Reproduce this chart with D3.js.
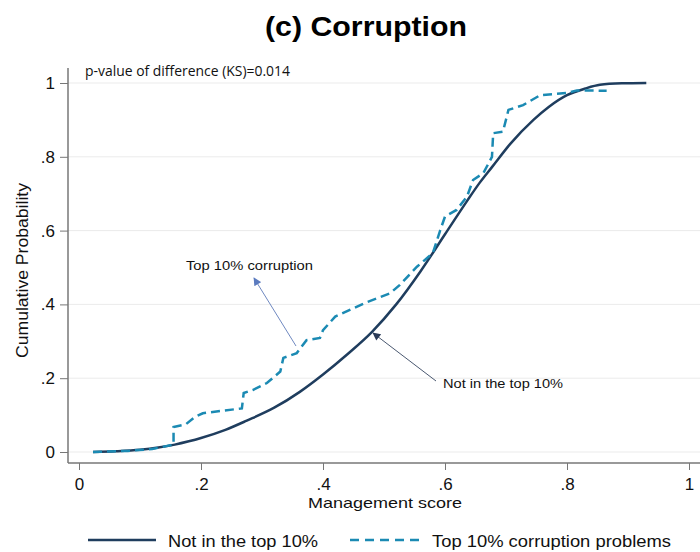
<!DOCTYPE html>
<html>
<head>
<meta charset="utf-8">
<script src="https://cdn.jsdelivr.net/npm/d3@7"></script>
<style>
  body { margin: 0; background: #fff; }
  svg { display: block; font-family: 'Liberation Sans', Arial, sans-serif; }
</style>
</head>
<body>
<svg id="chart" width="700" height="552"></svg>
<script>
// management score (x) vs cumulative probability (y)
const notTopX = [0.023, 0.06, 0.1, 0.13, 0.157, 0.18, 0.2, 0.24, 0.275, 0.32, 0.362, 0.4, 0.44, 0.48, 0.52, 0.56, 0.6, 0.636, 0.657, 0.677, 0.707, 0.745, 0.77, 0.8, 0.83, 0.854, 0.89, 0.93]
const notTopY = [0, 0.002, 0.006, 0.012, 0.02, 0.029, 0.038, 0.06, 0.085, 0.12, 0.163, 0.21, 0.265, 0.325, 0.4, 0.49, 0.59, 0.68, 0.73, 0.772, 0.835, 0.9, 0.935, 0.967, 0.985, 0.995, 0.999, 1]

const topX = [0.023, 0.08, 0.12, 0.155, 0.155, 0.175, 0.19, 0.203, 0.235, 0.267, 0.27, 0.285, 0.308, 0.33, 0.335, 0.357, 0.373, 0.395, 0.4, 0.42, 0.444, 0.47, 0.51, 0.526, 0.554, 0.58, 0.592, 0.6, 0.619, 0.636, 0.646, 0.663, 0.677, 0.679, 0.695, 0.704, 0.728, 0.756, 0.8, 0.816, 0.865]
const topY = [0, 0.003, 0.008, 0.02, 0.068, 0.075, 0.095, 0.105, 0.112, 0.118, 0.16, 0.168, 0.187, 0.218, 0.255, 0.268, 0.303, 0.309, 0.33, 0.367, 0.385, 0.405, 0.43, 0.453, 0.502, 0.539, 0.6, 0.638, 0.656, 0.692, 0.737, 0.756, 0.8, 0.864, 0.868, 0.927, 0.94, 0.967, 0.973, 0.98, 0.979]

const xTicks = [0, 0.2, 0.4, 0.6, 0.8, 1]
const xTickLabels = ['0', '.2', '.4', '.6', '.8', '1']
const yTicks = [0, 0.2, 0.4, 0.6, 0.8, 1]
const yTickLabels = ['0', '.2', '.4', '.6', '.8', '1']

const navy = '#1f3d5e'
const teal = '#1b8ab3'

const svg = d3.select('#chart')

const x = d3.scaleLinear().domain([0, 1]).range([79, 689])
const y = d3.scaleLinear().domain([0, 1]).range([452, 83])

// gridlines
svg.append('g')
  .selectAll('line')
  .data(yTicks)
  .join('line')
  .attr('x1', 68)
  .attr('x2', 700)
  .attr('y1', (d) => y(d))
  .attr('y2', (d) => y(d))
  .attr('stroke', '#ebebeb')
  .attr('stroke-width', 1)

// axes
const xAxis = d3.axisBottom(x)
  .tickValues(xTicks)
  .tickFormat((d, i) => xTickLabels[i])
  .tickSize(7)
  .tickPadding(8)

const yAxis = d3.axisLeft(y)
  .tickValues(yTicks)
  .tickFormat((d, i) => yTickLabels[i])
  .tickSize(8)
  .tickPadding(5)

const gX = svg.append('g')
  .attr('transform', 'translate(0,463)')
  .call(xAxis)
gX.select('.domain').remove()
gX.append('line').attr('x1', 68).attr('x2', 700).attr('stroke', '#777').attr('stroke-width', 1.5)

const gY = svg.append('g')
  .attr('transform', 'translate(68,0)')
  .call(yAxis)
gY.select('.domain').remove()
gY.append('line').attr('y1', 68).attr('y2', 463).attr('stroke', '#777').attr('stroke-width', 1.5)

svg.selectAll('.tick line').attr('stroke', '#777')
svg.selectAll('.tick text')
  .attr('fill', '#111')
  .style('font-size', '17px')
  .style('font-family', "'Liberation Sans', Arial, sans-serif")

// curves
const smooth = d3.line()
  .x((d) => x(d[0]))
  .y((d) => y(d[1]))
  .curve(d3.curveMonotoneX)

const line = d3.line()
  .x((d) => x(d[0]))
  .y((d) => y(d[1]))

svg.append('path')
  .datum(notTopX.map((v, i) => [v, notTopY[i]]))
  .attr('d', smooth)
  .attr('fill', 'none')
  .attr('stroke', navy)
  .attr('stroke-width', 2.5)

svg.append('path')
  .datum(topX.map((v, i) => [v, topY[i]]))
  .attr('d', line)
  .attr('fill', 'none')
  .attr('stroke', teal)
  .attr('stroke-width', 2.5)
  .attr('stroke-dasharray', '9,5')

// arrows
const defs = svg.append('defs')
function marker (id, color) {
  defs.append('marker')
    .attr('id', id)
    .attr('viewBox', '0 0 10 10')
    .attr('refX', 9)
    .attr('refY', 5)
    .attr('markerWidth', 9)
    .attr('markerHeight', 8)
    .attr('markerUnits', 'userSpaceOnUse')
    .attr('orient', 'auto')
    .append('path')
    .attr('d', 'M0,0L10,5L0,10z')
    .attr('fill', color)
}
marker('arrTop', '#5b7bbf')
marker('arrNot', '#2a3b58')

svg.append('line')
  .attr('x1', 296).attr('y1', 346)
  .attr('x2', 254).attr('y2', 278)
  .attr('stroke', '#6f88c0').attr('stroke-width', 1)
  .attr('marker-end', 'url(#arrTop)')

svg.append('line')
  .attr('x1', 436).attr('y1', 381)
  .attr('x2', 373).attr('y2', 333)
  .attr('stroke', '#4a5870').attr('stroke-width', 1)
  .attr('marker-end', 'url(#arrNot)')

svg.append('text')
  .attr('x', 186).attr('y', 270)
  .attr('textLength', 127)
  .attr('lengthAdjust', 'spacingAndGlyphs')
  .style('font-size', '13px')
  .attr('fill', '#111')
  .text('Top 10% corruption')

svg.append('text')
  .attr('x', 443).attr('y', 388)
  .attr('textLength', 120)
  .attr('lengthAdjust', 'spacingAndGlyphs')
  .style('font-size', '13px')
  .attr('fill', '#111')
  .text('Not in the top 10%')

// titles
svg.append('text')
  .attr('x', 265).attr('y', 36)
  .attr('textLength', 202)
  .attr('lengthAdjust', 'spacingAndGlyphs')
  .style('font-size', '28px')
  .style('font-weight', 'bold')
  .attr('fill', '#000')
  .text('(c) Corruption')

svg.append('text')
  .attr('x', 85).attr('y', 76)
  .attr('textLength', 205)
  .attr('lengthAdjust', 'spacingAndGlyphs')
  .style('font-size', '15px')
  .style('font-family', "'Open Sans', sans-serif")
  .attr('fill', '#111')
  .text('p-value of difference (KS)=0.014')

svg.append('text')
  .attr('x', 308).attr('y', 508)
  .attr('textLength', 154)
  .attr('lengthAdjust', 'spacingAndGlyphs')
  .style('font-size', '15px')
  .attr('fill', '#111')
  .text('Management score')

svg.append('text')
  .attr('transform', 'translate(28,358) rotate(-90)')
  .attr('textLength', 175)
  .attr('lengthAdjust', 'spacingAndGlyphs')
  .style('font-size', '16px')
  .attr('fill', '#111')
  .text('Cumulative Probability')

// legend
const legend = svg.append('g')
legend.append('line')
  .attr('x1', 88).attr('x2', 156).attr('y1', 540).attr('y2', 540)
  .attr('stroke', navy).attr('stroke-width', 2.5)
legend.append('text')
  .attr('x', 168).attr('y', 547)
  .attr('textLength', 150)
  .attr('lengthAdjust', 'spacingAndGlyphs')
  .style('font-size', '17px')
  .attr('fill', '#111')
  .text('Not in the top 10%')
legend.append('line')
  .attr('x1', 350).attr('x2', 420).attr('y1', 540).attr('y2', 540)
  .attr('stroke', teal).attr('stroke-width', 2.5)
  .attr('stroke-dasharray', '9,6')
legend.append('text')
  .attr('x', 432).attr('y', 547)
  .attr('textLength', 239)
  .attr('lengthAdjust', 'spacingAndGlyphs')
  .style('font-size', '17px')
  .attr('fill', '#111')
  .text('Top 10% corruption problems')
</script>
</body>
</html>
